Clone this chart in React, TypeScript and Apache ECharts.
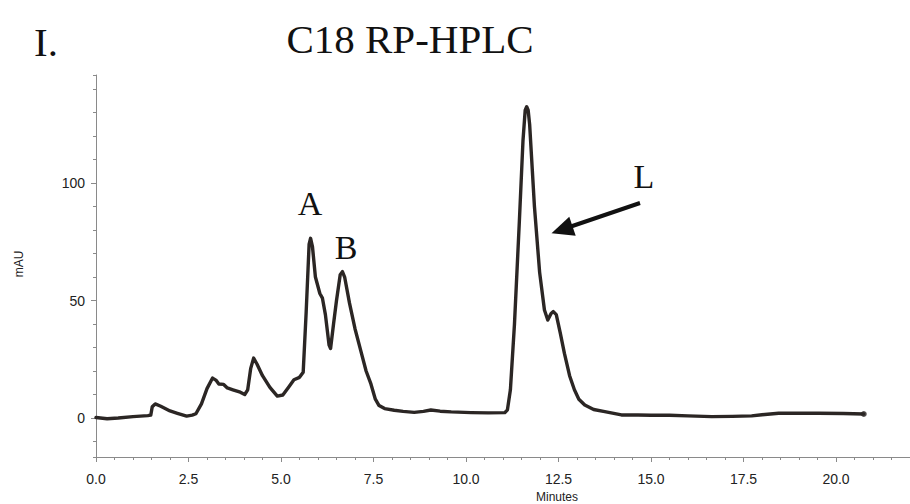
import React, { useEffect, useRef } from "react";
import * as echarts from "echarts";

// Chromatogram: retention time (minutes) and absorbance (mAU)
const times = [
  0.0, 0.3, 0.6, 1.0, 1.4, 1.48, 1.52, 1.6, 1.75, 2.0, 2.2, 2.45, 2.6, 2.7, 2.85,
  3.0, 3.15, 3.25, 3.32, 3.45, 3.55, 3.7, 3.9, 4.02, 4.1, 4.18, 4.26, 4.35, 4.5,
  4.7, 4.9, 5.05, 5.2, 5.35, 5.5, 5.6, 5.68, 5.76, 5.8, 5.85, 5.93, 6.05, 6.12,
  6.2, 6.3, 6.34, 6.42, 6.5, 6.6, 6.66, 6.72, 6.85, 7.0, 7.15, 7.3, 7.43, 7.55,
  7.65, 7.8, 8.06, 8.3, 8.6, 8.85, 9.05, 9.3, 9.6, 10.14, 10.6, 11.05, 11.12,
  11.2, 11.31, 11.44, 11.54, 11.6, 11.64, 11.68, 11.72, 11.85, 11.99, 12.12,
  12.21, 12.3, 12.36, 12.44, 12.55, 12.66, 12.8, 12.93, 13.05, 13.21, 13.45,
  13.75, 14.2, 14.65, 15.0, 15.5, 16.0, 16.64, 17.2, 17.72, 18.0, 18.45, 19.0,
  19.53, 20.2, 20.75,
];
const mau = [
  0.2, -0.3, 0.0, 0.6, 1.0, 1.2, 4.8, 6.0, 5.0, 3.0, 2.0, 0.8, 1.2, 1.8, 6.0,
  12.5, 17.0, 16.0, 14.5, 14.3, 12.8, 12.0, 11.0, 10.0, 12.0, 21.0, 25.5, 23.0, 18.0,
  13.0, 9.3, 9.8, 13.0, 16.3, 17.3, 19.5, 45, 74, 76.5, 73, 60, 53, 51,
  44, 31, 29.6, 40, 50, 61, 62.3, 60, 49, 38, 29, 20, 14.5, 8,
  5.3, 4.0, 3.3, 2.8, 2.4, 2.8, 3.4, 2.9, 2.6, 2.3, 2.2, 2.3, 3.5,
  12, 40, 83, 118, 131, 132.5, 131, 125, 90, 62, 46,
  41.7, 44.5, 45.3, 44, 36, 27.5, 18, 12, 8, 5.5, 3.6,
  2.7, 1.3, 1.3, 1.2, 1.2, 0.9, 0.6, 0.7, 0.9, 1.4, 2.0, 2.0,
  2.0, 1.9, 1.7,
];
const xTickLabels = ["0.0", "2.5", "5.0", "7.5", "10.0", "12.5", "15.0", "17.5", "20.0"];
const peakLabels = ["A", "B", "L"];

export default function App() {
  const ref = useRef<HTMLDivElement>(null);
  useEffect(() => {
    if (!ref.current) return;
    const chart = echarts.init(ref.current, undefined, { renderer: "svg" });
    const data = times.map((t, i) => [t, mau[i]]);
    const last = data[data.length - 1];
    const lineColor = "#2b2624";
    const axisColor = "#8a8a8a";
    const sans = "Liberation Sans, Arial, sans-serif";
    const serif = "Liberation Serif, Times New Roman, serif";
    chart.setOption({
      animation: false,
      grid: { left: 96, right: 0, top: 75, bottom: 47, containLabel: false },
      xAxis: [
        {
          type: "value", min: 0, max: 22, interval: 2.5,
          axisLine: { show: true, onZero: false, lineStyle: { color: axisColor, width: 1 } },
          axisTick: { show: true, length: 5, lineStyle: { color: axisColor } },
          axisLabel: {
            show: true, margin: 15, color: "#222", fontFamily: sans, fontSize: 14,
            showMaxLabel: false,
            formatter: (v: number) => xTickLabels[Math.round(v / 2.5)] ?? "",
          },
          splitLine: { show: false },
        },
        {
          type: "value", min: 0, max: 22, interval: 0.5, position: "bottom",
          axisLine: { show: false, onZero: false },
          axisTick: { show: true, length: 3, lineStyle: { color: axisColor } },
          axisLabel: { show: false },
          splitLine: { show: false },
        },
      ],
      yAxis: [
        {
          type: "value", min: -16.6, max: 146, splitNumber: 3,
          axisLine: { show: true, onZero: false, lineStyle: { color: axisColor, width: 1 } },
          axisTick: { show: true, length: 5, lineStyle: { color: axisColor } },
          axisLabel: {
            show: true, margin: 11, color: "#222", fontFamily: sans, fontSize: 14,
            showMinLabel: false, showMaxLabel: false,
          },
          splitLine: { show: false },
        },
        {
          type: "value", min: -16.6, max: 146, splitNumber: 16, position: "left",
          axisLine: { show: false, onZero: false },
          axisTick: { show: true, length: 3, lineStyle: { color: axisColor } },
          axisLabel: { show: false },
          splitLine: { show: false },
        },
      ],
      series: [
        {
          type: "line", xAxisIndex: 0, yAxisIndex: 0, data,
          showSymbol: false, symbol: "none",
          lineStyle: { color: lineColor, width: 3.4, join: "round", cap: "round" },
          z: 3,
        },
        {
          type: "scatter", xAxisIndex: 0, yAxisIndex: 0, data: [last],
          symbol: "circle", symbolSize: 6, itemStyle: { color: lineColor }, z: 4,
        },
      ],
      graphic: [
        { type: "text", left: 34, top: 21, style: { text: "I.", font: `41px ${serif}`, fill: "#111" } },
        { type: "text", x: 410, y: 39, style: { text: "C18 RP-HPLC", font: `41px ${serif}`, fill: "#111", textAlign: "center", textVerticalAlign: "middle" } },
        { type: "text", x: 310, y: 203, style: { text: peakLabels[0], font: `34px ${serif}`, fill: "#111", textAlign: "center", textVerticalAlign: "middle" } },
        { type: "text", x: 346, y: 247, style: { text: peakLabels[1], font: `34px ${serif}`, fill: "#111", textAlign: "center", textVerticalAlign: "middle" } },
        { type: "text", x: 644, y: 176, style: { text: peakLabels[2], font: `34px ${serif}`, fill: "#111", textAlign: "center", textVerticalAlign: "middle" } },
        { type: "line", shape: { x1: 640, y1: 203, x2: 568, y2: 227.5 }, style: { stroke: "#111", lineWidth: 4 } },
        { type: "polygon", shape: { points: [[551.5, 233.3], [569.3, 216.7], [575.7, 235.7]] }, style: { fill: "#111" } },
        { type: "text", x: 19, y: 264, rotation: Math.PI / 2, style: { text: "mAU", font: `12px ${sans}`, fill: "#222", textAlign: "center", textVerticalAlign: "middle" } },
        { type: "text", x: 557, y: 497, style: { text: "Minutes", font: `12px ${sans}`, fill: "#222", textAlign: "center", textVerticalAlign: "middle" } },
      ],
    });
    return () => chart.dispose();
  }, []);
  return <div ref={ref} style={{ width: 910, height: 504, position: "absolute", left: 0, top: 0 }} />;
}
